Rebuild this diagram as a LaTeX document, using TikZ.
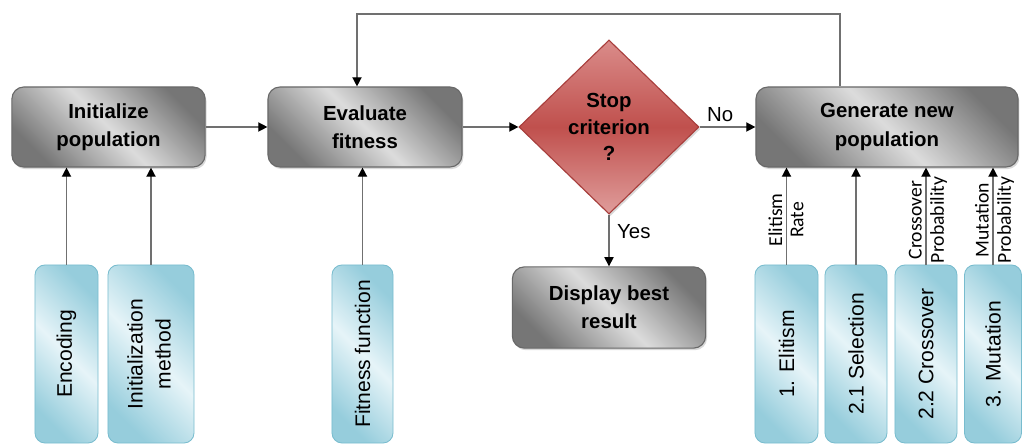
\documentclass[tikz,border=0pt]{standalone}
\usepackage{fontspec}
\setmainfont{Liberation Sans}
\newfontfamily\paramfont{Carlito}
\usepackage{tikz}
\usetikzlibrary{shapes.geometric,shadows,arrows.meta}
\definecolor{stepdark}{RGB}{118,118,118}
\definecolor{steplight}{RGB}{220,220,220}
\definecolor{stepline}{RGB}{105,105,105}
\definecolor{stopred}{RGB}{192,80,77}
\definecolor{stoplight}{RGB}{218,140,138}
\definecolor{stopline}{RGB}{168,62,60}
\definecolor{paramdark}{RGB}{150,205,220}
\definecolor{paramlight}{RGB}{230,244,248}
\definecolor{paramline}{RGB}{120,188,206}
\definecolor{flowline}{RGB}{112,112,112}

\begin{document}
\begin{tikzpicture}[x=0.025cm, y=-0.025cm,
		stepbox/.style={rectangle, rounded corners=0.3cm, draw=stepline, line width=0.8pt,
			top color=stepdark, bottom color=stepdark, middle color=steplight, shading angle=-45,
			minimum width=4.83cm, minimum height=2cm, align=center,
			font=\fontsize{14.5}{20}\selectfont\bfseries,
			drop shadow={shadow xshift=1pt, shadow yshift=-1.5pt, opacity=0.3}},
		decision/.style={diamond, draw=stopline, line width=0.8pt,
			top color=stoplight, bottom color=stoplight!85!white, middle color=stopred,
			minimum width=4.5cm, minimum height=4.35cm, inner sep=0pt, align=center,
			font=\fontsize{14.5}{19}\selectfont\bfseries,
			drop shadow={shadow xshift=1pt, shadow yshift=-1.5pt, opacity=0.3}},
		parambox/.style={rectangle, rounded corners=0.25cm, draw=paramline, line width=0.6pt,
			top color=paramdark, bottom color=paramdark, middle color=paramlight, shading angle=-45,
			minimum height=4.45cm, inner sep=0pt, font=\fontsize{15}{20}\selectfont},
		flow/.style={draw=flowline, line width=1pt, -{Triangle[length=6.5pt, width=6.5pt, color=black]}},
		flowlabel/.style={font=\fontsize{14.5}{17}\selectfont},
		paramlabel/.style={font=\paramfont\fontsize{14}{16}\selectfont, rotate=90, pos=0.46, inner sep=2.5pt}]
			%%%%% MAIN FLOW %%%%%
			
			\useasboundingbox (0, 0) rectangle (1022, 445);
			
			\node[stepbox] (init) at (108.5, 127) {Initialize\\population};
			\node[stepbox, minimum width=4.85cm] (eval) at (365, 127) {Evaluate\\fitness};
			\node[decision] (stop) at (609, 127) {Stop\\criterion\\?};
			\node[stepbox, minimum width=6.55cm] (gen) at (887, 127) {Generate new\\population};
			\node[stepbox, minimum height=2.03cm] (show) at (609, 307.5) {Display best\\result};
			
			\draw[flow] (init.east) -- (eval.west);
			\draw[flow] (eval.east) -- (stop.west);
			\draw[flow] (stop.east) -- node[flowlabel, above, pos=0.37] {No} (gen.west);
			\draw[flow] (stop.south) -- node[flowlabel, right, pos=0.33, xshift=2pt] {Yes} (show.north);
			
			% loop back to the evaluation
			\coordinate (loopR) at (840, 14);
			\coordinate (loopL) at (357, 14);
			\draw[flow] (gen.north -| loopR) -- (loopR) -- (loopL) -- (loopL |- eval.north);
			
			%%%%% PARAMETERS %%%%%
			
			\node[parambox, minimum width=1.575cm] (enc) at (66.5, 354) {\rotatebox{90}{Encoding}};
			\node[parambox, minimum width=2.15cm] (initm) at (151, 354) {\rotatebox{90}{\begin{tabular}{@{}c@{}}Initialization\\method\end{tabular}}};
			\node[parambox, minimum width=1.525cm] (fitfn) at (362.5, 354) {\rotatebox{90}{Fitness function}};
			\node[parambox, minimum width=1.575cm] (elit) at (786.5, 354) {\rotatebox{90}{1. Elitism}};
			\node[parambox, minimum width=1.55cm] (sel) at (856, 354) {\rotatebox{90}{2.1 Selection}};
			\node[parambox, minimum width=1.55cm] (cross) at (926, 354) {\rotatebox{90}{2.2 Crossover}};
			\node[parambox, minimum width=1.425cm] (mut) at (993, 354) {\rotatebox{90}{3. Mutation}};
			
			\draw[flow] (enc.north) -- (enc.north |- init.south);
			\draw[flow] (initm.north) -- (initm.north |- init.south);
			\draw[flow] (fitfn.north) -- (fitfn.north |- eval.south);
			\draw[flow] (elit.north) -- node[paramlabel, anchor=south] {Elitism} node[paramlabel, anchor=north] {Rate} (elit.north |- gen.south);
			\draw[flow] (sel.north) -- (sel.north |- gen.south);
			\draw[flow] (cross.north) -- node[paramlabel, anchor=south] {Crossover} node[paramlabel, anchor=north] {Probability} (cross.north |- gen.south);
			\draw[flow] (mut.north) -- node[paramlabel, anchor=south] {Mutation} node[paramlabel, anchor=north] {Probability} (mut.north |- gen.south);
			
			%%%%% END %%%%%
\end{tikzpicture}
\end{document}
